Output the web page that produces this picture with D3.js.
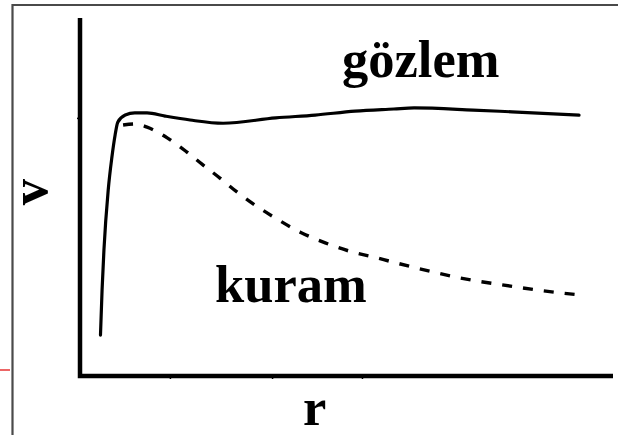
<!DOCTYPE html>
<html>
<head>
<meta charset="utf-8">
<script src="https://cdn.jsdelivr.net/npm/d3@7"></script>
<style>
  html, body { margin: 0; padding: 0; background: #fff; overflow: hidden; }
  svg { display: block; }
  text { font-family: "Liberation Serif", "Times New Roman", serif; font-weight: bold; fill: #000; }
</style>
</head>
<body>
<svg id="chart" width="618" height="435"></svg>
<script>
// Rotation curve: observed (gözlem) vs. predicted (kuram) speed against radius
const radius = [3.85, 4.15, 4.5, 5.3, 6.0, 6.6, 7.1, 8.5, 10.3, 12.6, 16.0, 20.7, 26.9, 36.8, 44.2, 51.7, 59.0, 62.8, 73.9, 81.2, 93.8];
const gozlem = [11.5, 24.2, 35.4, 52.2, 61.5, 67.7, 71.3, 73.3, 73.9, 73.9, 73.0, 71.9, 71.0, 72.5, 73.3, 74.4, 75.0, 75.3, 74.7, 74.2, 73.3];

const radiusKuram = [8.1, 10.3, 12.6, 16.4, 20.1, 23.1, 26.3, 29.5, 32.9, 36.7, 41.4, 46.1, 50.8, 55.5, 58.3, 62.5, 66.5, 70.6, 74.6, 78.5, 82.5, 86.7, 93.8];
const kuram = [70.5, 70.8, 69.9, 66.9, 62.9, 59.3, 55.6, 51.7, 48.0, 44.4, 40.4, 37.4, 35.0, 33.3, 32.2, 30.6, 29.2, 27.8, 26.7, 25.8, 24.9, 24.0, 22.8];

const xTicks = [16.9, 36.1, 53.0];
const yTicks = [72.5];

const seriesLabels = ["gözlem", "kuram"];
const axisLabels = ["r", "v"];

const svg = d3.select("#chart");

// outer frame
svg.append("path")
  .attr("d", "M12.5,440 V5 H630")
  .attr("fill", "none")
  .attr("stroke", "#4a4a4a")
  .attr("stroke-width", 2.2);

// small red mark at the left edge
svg.append("line")
  .attr("x1", 0).attr("x2", 10)
  .attr("y1", 370).attr("y2", 370)
  .attr("stroke", "#e00000")
  .attr("stroke-width", 1.2);

const x = d3.scaleLinear().domain([0, 100]).range([80, 612]);
const y = d3.scaleLinear().domain([0, 100]).range([376, 20]);

// axes: thick L-shaped lines with tiny ticks
const xAxis = d3.axisBottom(x).tickValues(xTicks).tickSize(3).tickFormat("");
const yAxis = d3.axisLeft(y).tickValues(yTicks).tickSize(3).tickFormat("");

const gx = svg.append("g").attr("transform", `translate(0,${y(0)})`).call(xAxis);
gx.select(".domain").remove();
gx.selectAll(".tick line").attr("stroke", "#000").attr("stroke-width", 1.5);

const gy = svg.append("g").attr("transform", `translate(${x(0)},0)`).call(yAxis);
gy.select(".domain").remove();
gy.selectAll(".tick line").attr("stroke", "#000").attr("stroke-width", 1.5);

svg.append("path")
  .attr("d", `M${x(0)},${y(100) - 2} V${y(0)} H${x(100) + 1}`)
  .attr("fill", "none")
  .attr("stroke", "#000")
  .attr("stroke-width", 4.5)
  .attr("stroke-linejoin", "miter");

const line = d3.line()
  .x(d => x(d[0]))
  .y(d => y(d[1]))
  .curve(d3.curveMonotoneX);

// observed curve
svg.append("path")
  .datum(radius.map((r, i) => [r, gozlem[i]]))
  .attr("d", line)
  .attr("fill", "none")
  .attr("stroke", "#000")
  .attr("stroke-width", 3.2)
  .attr("stroke-linecap", "round");

// predicted curve
svg.append("path")
  .datum(radiusKuram.map((r, i) => [r, kuram[i]]))
  .attr("d", line)
  .attr("fill", "none")
  .attr("stroke", "#000")
  .attr("stroke-width", 3.4)
  .attr("stroke-dasharray", "10,11");

// labels
svg.append("text")
  .attr("x", 342).attr("y", 77)
  .attr("font-size", 52.5)
  .text(seriesLabels[0]);

svg.append("text")
  .attr("x", 215).attr("y", 302)
  .attr("font-size", 52.5)
  .text(seriesLabels[1]);

svg.append("text")
  .attr("x", 303).attr("y", 425)
  .attr("font-size", 52.5)
  .text(axisLabels[0]);

svg.append("text")
  .attr("transform", "translate(47,192) rotate(-90)")
  .attr("text-anchor", "middle")
  .attr("font-size", 52.5)
  .text(axisLabels[1]);
</script>
</body>
</html>
